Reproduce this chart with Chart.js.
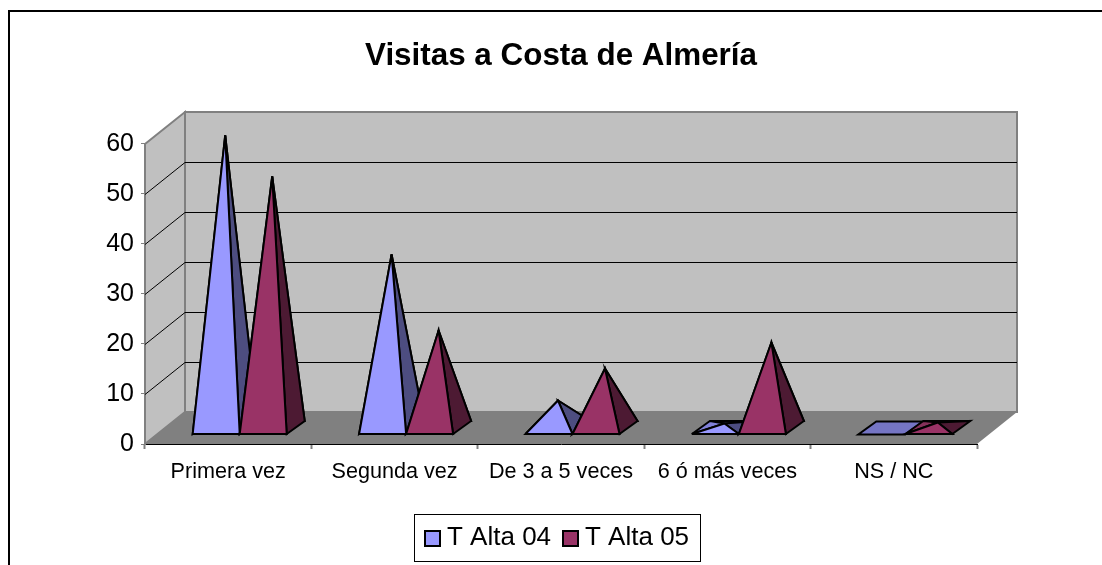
<!DOCTYPE html>
<html>
<head>
<meta charset="utf-8">
<style>
    html, body { margin: 0; padding: 0; background: #fff; }
    canvas { display: block; }
</style>
<script src="https://cdn.jsdelivr.net/npm/chart.js@4"></script>
</head>
<body>
<canvas id="visitasChart" width="1102" height="565"></canvas>
<script>
const categories = ['Primera vez', 'Segunda vez', 'De 3 a 5 veces', '6 ó más veces', 'NS / NC'];
const tAlta04 = [58.5, 34.7, 5.5, 0.9, 0];
const tAlta05 = [50.3, 19.5, 11.9, 17.1, 1.1];
const seriesNames = ['T Alta 04', 'T Alta 05'];

const FONT = '"Liberation Sans", Arial, sans-serif';
const palette = [
    { front: '#9999ff', left: '#8080d8', back: '#7575c4', right: '#4d4d80' },
    { front: '#993366', left: '#86305a', back: '#7d2a54', right: '#4d1a33' }
];

// 3D box offsets, px
const wallDX = 40, wallDY = -32;
const baseDX = 11.5, baseDY = -9.5;
const pyrDX = 18, pyrDY = -13;

function poly(ctx, pts, fill, stroke, lw) {
    ctx.beginPath();
    pts.forEach((p, i) => i ? ctx.lineTo(p[0], p[1]) : ctx.moveTo(p[0], p[1]));
    ctx.closePath();
    ctx.fillStyle = fill;
    ctx.fill();
    if (stroke) {
        ctx.lineWidth = lw;
        ctx.strokeStyle = stroke;
        ctx.stroke();
    }
}

const framePlugin = {
    id: 'frame',
    beforeDraw(chart) {
        const ctx = chart.ctx;
        ctx.save();
        ctx.fillStyle = '#fff';
        ctx.fillRect(0, 0, chart.width, chart.height);
        // outer chart border, cut off on the right and bottom like the source image
        ctx.strokeStyle = '#000';
        ctx.lineWidth = 2;
        ctx.beginPath();
        ctx.moveTo(9, chart.height);
        ctx.lineTo(9, 11);
        ctx.lineTo(chart.width, 11);
        ctx.stroke();
        ctx.restore();
    }
};

const wallsPlugin = {
    id: 'walls',
    beforeDatasetsDraw(chart) {
        const ctx = chart.ctx;
        const { left, right, top, bottom } = chart.chartArea;
        const y = chart.scales.y;
        ctx.save();
        poly(ctx, [[left + wallDX, top + wallDY], [right + wallDX, top + wallDY], [right + wallDX, bottom + wallDY], [left + wallDX, bottom + wallDY]], '#c0c0c0', '#808080', 2);
        poly(ctx, [[left, top], [left + wallDX, top + wallDY], [left + wallDX, bottom + wallDY], [left, bottom]], '#c0c0c0', '#808080', 2);
        y.ticks.forEach(t => {
            if (t.value === y.min || t.value === y.max) return;
            const py = Math.round(y.getPixelForValue(t.value)) + 0.5;
            ctx.beginPath();
            ctx.moveTo(left, py);
            ctx.lineTo(left + wallDX, py + wallDY);
            ctx.lineTo(right + wallDX, py + wallDY);
            ctx.strokeStyle = '#000';
            ctx.lineWidth = 1;
            ctx.stroke();
        });
        poly(ctx, [[left, bottom], [left + wallDX, bottom + wallDY], [right + wallDX, bottom + wallDY], [right, bottom]], '#808080');
        ctx.restore();
    }
};

const pyramidPlugin = {
    id: 'pyramids',
    afterDatasetsDraw(chart) {
        const ctx = chart.ctx;
        const metas = chart.data.datasets.map((d, i) => chart.getDatasetMeta(i));
        ctx.save();
        ctx.lineJoin = 'miter';
        ctx.miterLimit = 6;
        categories.forEach((c, j) => {
            metas.forEach((meta, s) => {
                const bar = meta.data[j];
                const col = palette[s];
                const x0 = bar.x - bar.width / 2 + baseDX;
                const x1 = bar.x + bar.width / 2 + baseDX;
                const yf = bar.base + baseDY;
                const fl = [x0, yf], fr = [x1, yf];
                const br = [x1 + pyrDX, yf + pyrDY], bl = [x0 + pyrDX, yf + pyrDY];
                const apex = [(x0 + x1 + pyrDX) / 2, yf + pyrDY / 2 - (bar.base - bar.y)];
                if (bar.base - bar.y < 0.5) {
                    poly(ctx, [fl, fr, br, bl], col.back, '#000', 2);
                    return;
                }
                poly(ctx, [bl, br, apex], col.back, '#000', 2);
                poly(ctx, [fl, bl, apex], col.left, '#000', 2);
                poly(ctx, [fr, br, apex], col.right, '#000', 2);
                poly(ctx, [fl, fr, apex], col.front, '#000', 2);
            });
        });
        ctx.restore();
    }
};

const legendPlugin = {
    id: 'boxLegend',
    afterDraw(chart) {
        const ctx = chart.ctx;
        ctx.save();
        ctx.strokeStyle = '#000';
        ctx.lineWidth = 1;
        ctx.strokeRect(414.5, 514.5, 286, 47);
        ctx.font = '26px ' + FONT;
        ctx.textBaseline = 'alphabetic';
        chart.data.datasets.forEach((d, i) => {
            const sx = 425 + i * 138;
            ctx.fillStyle = palette[i].front;
            ctx.fillRect(sx, 531, 15, 15);
            ctx.lineWidth = 2;
            ctx.strokeRect(sx, 531, 15, 15);
            ctx.fillStyle = '#000';
            ctx.fillText(d.label, sx + 22, 545);
        });
        ctx.restore();
    }
};

document.addEventListener('DOMContentLoaded', function () {
    const ctx = document.getElementById('visitasChart').getContext('2d');
    new Chart(ctx, {
        type: 'bar',
        data: {
            labels: categories,
            datasets: [
                { label: seriesNames[0], data: tAlta04, backgroundColor: 'transparent' },
                { label: seriesNames[1], data: tAlta05, backgroundColor: 'transparent' }
            ]
        },
        plugins: [framePlugin, wallsPlugin, pyramidPlugin, legendPlugin],
        options: {
            responsive: false,
            animation: false,
            devicePixelRatio: 1,
            layout: { padding: { left: 0, right: 125, top: 0, bottom: 0 } },
            datasets: { bar: { barPercentage: 1, categoryPercentage: 0.565 } },
            plugins: {
                legend: { display: false },
                tooltip: { enabled: false },
                title: {
                    display: true,
                    text: 'Visitas a Costa de Almería',
                    fullSize: false,
                    color: '#000',
                    font: { family: FONT, size: 31.4, weight: 'bold', lineHeight: 1.2 },
                    padding: { top: 38, bottom: 68.3 }
                }
            },
            scales: {
                x: {
                    afterFit(s) { s.height = 121; },
                    border: { color: '#000', width: 1 },
                    grid: { drawOnChartArea: false, tickLength: 5, tickColor: '#808080', tickWidth: 2 },
                    ticks: {
                        color: '#000',
                        padding: 10,
                        maxRotation: 0,
                        autoSkip: false,
                        font: { family: FONT, size: 21.6 }
                    }
                },
                y: {
                    min: 0,
                    max: 60,
                    afterFit(s) { s.width = 145; },
                    border: { color: '#808080', width: 2 },
                    grid: { drawOnChartArea: false, tickLength: 4, tickColor: '#808080' },
                    ticks: {
                        stepSize: 10,
                        color: '#000',
                        padding: 7,
                        font: { family: FONT, size: 25 }
                    }
                }
            }
        }
    });
});
</script>
</body>
</html>
